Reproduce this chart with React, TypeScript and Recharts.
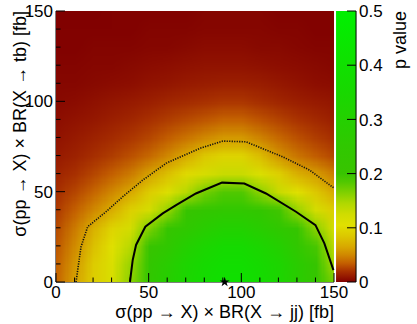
import React from "react";
import { ScatterChart, Scatter, XAxis, YAxis, ReferenceArea, ReferenceLine, Symbols } from "recharts";

// grid of the p-value map (fb), 10 fb spacing
const GRID_X = [0, 10, 20, 30, 40, 50, 60, 70, 80, 90, 100, 110, 120, 130, 140, 150];
const GRID_Y = [0, 10, 20, 30, 40, 50, 60, 70, 80, 90, 100, 110, 120, 130, 140, 150];

// p value per row (y)
const P_Y0 = [0.037, 0.062, 0.09, 0.115, 0.16, 0.24, 0.29, 0.335, 0.375, 0.4, 0.4, 0.375, 0.335, 0.28, 0.22, 0.17];
const P_Y10 = [0.035, 0.058, 0.088, 0.112, 0.155, 0.23, 0.28, 0.33, 0.365, 0.39, 0.39, 0.365, 0.33, 0.275, 0.215, 0.15];
const P_Y20 = [0.032, 0.052, 0.08, 0.105, 0.14, 0.2, 0.25, 0.3, 0.335, 0.36, 0.36, 0.335, 0.3, 0.245, 0.19, 0.135];
const P_Y30 = [0.028, 0.045, 0.07, 0.095, 0.12, 0.165, 0.215, 0.25, 0.28, 0.305, 0.305, 0.28, 0.25, 0.21, 0.16, 0.115];
const P_Y40 = [0.023, 0.035, 0.05, 0.068, 0.092, 0.12, 0.155, 0.205, 0.23, 0.245, 0.245, 0.23, 0.195, 0.155, 0.12, 0.09];
const P_Y50 = [0.019, 0.027, 0.037, 0.05, 0.065, 0.088, 0.11, 0.14, 0.17, 0.185, 0.185, 0.16, 0.13, 0.105, 0.085, 0.065];
const P_Y60 = [0.015, 0.02, 0.027, 0.035, 0.045, 0.062, 0.08, 0.1, 0.118, 0.13, 0.13, 0.112, 0.092, 0.07, 0.06, 0.046];
const P_Y70 = [0.011, 0.014, 0.019, 0.024, 0.03, 0.038, 0.05, 0.066, 0.085, 0.095, 0.095, 0.078, 0.056, 0.043, 0.034, 0.027];
const P_Y80 = [0.008, 0.011, 0.014, 0.018, 0.022, 0.027, 0.034, 0.042, 0.05, 0.058, 0.058, 0.048, 0.038, 0.03, 0.024, 0.019];
const P_Y90 = [0.006, 0.008, 0.01, 0.013, 0.016, 0.02, 0.024, 0.028, 0.032, 0.036, 0.036, 0.031, 0.026, 0.021, 0.017, 0.013];
const P_Y100 = [0.004, 0.005, 0.007, 0.009, 0.011, 0.013, 0.016, 0.018, 0.02, 0.022, 0.022, 0.019, 0.016, 0.013, 0.011, 0.009];
const P_Y110 = [0.003, 0.003, 0.004, 0.005, 0.006, 0.008, 0.009, 0.011, 0.012, 0.013, 0.013, 0.012, 0.01, 0.008, 0.006, 0.005];
const P_Y120 = [0.002, 0.002, 0.003, 0.003, 0.004, 0.005, 0.006, 0.007, 0.008, 0.008, 0.008, 0.007, 0.006, 0.005, 0.004, 0.003];
const P_Y130 = [0.001, 0.001, 0.002, 0.002, 0.002, 0.003, 0.003, 0.004, 0.005, 0.005, 0.005, 0.004, 0.004, 0.003, 0.002, 0.002];
const P_Y140 = [0.001, 0.001, 0.001, 0.001, 0.001, 0.002, 0.002, 0.002, 0.003, 0.003, 0.003, 0.003, 0.002, 0.002, 0.001, 0.001];
const P_Y150 = [0, 0, 0, 0.001, 0.001, 0.001, 0.001, 0.001, 0.002, 0.002, 0.002, 0.002, 0.001, 0.001, 0.001, 0.001];
const P_ROWS = [P_Y0, P_Y10, P_Y20, P_Y30, P_Y40, P_Y50, P_Y60, P_Y70, P_Y80, P_Y90, P_Y100, P_Y110, P_Y120, P_Y130, P_Y140, P_Y150];

// contour lines
const SOLID_X = [39.9, 41.4, 43.2, 48.2, 57.6, 64.8, 75.5, 89.6, 101.6, 113.3, 129.5, 140, 144.8, 149.7];
const SOLID_Y = [0, 12.2, 20.5, 30.6, 38, 42.6, 49, 55, 54.5, 49, 38.9, 31.5, 21.4, 6.6];
const DOTTED_X = [10.8, 13.5, 17.1, 27, 36, 46.8, 59.4, 77.4, 90, 102.5, 122.3, 136.7, 150];
const DOTTED_Y = [0, 19.5, 30.6, 38.9, 47.2, 56.4, 65.7, 73.9, 78, 77.6, 69.3, 62, 52];

// best fit point
const STAR = [{ x: 91, y: 0 }];

const X_TICKS = [0, 10, 20, 30, 40, 50, 60, 70, 80, 90, 100, 110, 120, 130, 140, 150];
const Y_TICKS = [0, 10, 20, 30, 40, 50, 60, 70, 80, 90, 100, 110, 120, 130, 140, 150];
const P_TICKS = [0, 0.1, 0.2, 0.3, 0.4, 0.5];

// palette
const PALETTE_P = [0, 0.01, 0.02, 0.035, 0.05, 0.065, 0.085, 0.105, 0.125, 0.145, 0.165, 0.185, 0.2, 0.25, 0.35, 0.5];
const PALETTE_C = ["#800000", "#951800", "#a83000", "#c46000", "#d08800", "#d8a800", "#dcc800", "#e0e000",
  "#d0dc00", "#b0d800", "#80d000", "#50c800", "#38c400", "#30c800", "#18d800", "#00f000"];

const X_TITLE = "σ(pp → X) × BR(X → jj) [fb]";
const Y_TITLE = "σ(pp → X) × BR(X → tb) [fb]";
const P_TITLE = "p value";

const FONT = "'Liberation Sans', Arial, Helvetica, sans-serif";
const FS = 17;
const TFS = 18;
const CW = 278 / 15;
const CH = 271 / 15;
const N = GRID_X.length - 1;
// colour bar, in x-axis units (just right of the frame)
const CB_X1 = 151.1;
const CB_X2 = 161.9;

function hex(c: string) {
  return [parseInt(c.slice(1, 3), 16), parseInt(c.slice(3, 5), 16), parseInt(c.slice(5, 7), 16)];
}

function pRGB(p: number) {
  if (p <= PALETTE_P[0]) return hex(PALETTE_C[0]);
  for (let k = 1; k < PALETTE_P.length; k++) {
    if (p <= PALETTE_P[k]) {
      const t = (p - PALETTE_P[k - 1]) / (PALETTE_P[k] - PALETTE_P[k - 1]);
      const a = hex(PALETTE_C[k - 1]);
      const b = hex(PALETTE_C[k]);
      return a.map((v, i) => Math.round(v + (b[i] - v) * t));
    }
  }
  return hex(PALETTE_C[PALETTE_C.length - 1]);
}

// one pixel per grid node; the browser smooths it when it is stretched
function heatImage() {
  if (typeof document === "undefined") return "";
  const cv = document.createElement("canvas");
  cv.width = GRID_X.length;
  cv.height = GRID_Y.length;
  const ctx = cv.getContext("2d");
  if (!ctx) return "";
  const img = ctx.createImageData(cv.width, cv.height);
  P_ROWS.forEach((row, j) => {
    row.forEach((p, i) => {
      const [r, g, b] = pRGB(p);
      const o = ((N - j) * cv.width + i) * 4;
      img.data[o] = r;
      img.data[o + 1] = g;
      img.data[o + 2] = b;
      img.data[o + 3] = 255;
    });
  });
  ctx.putImageData(img, 0, 0);
  return cv.toDataURL();
}

const HEAT_URL = heatImage();

// only the top-left node anchors the picture of the whole grid
const heatData = [{ x: GRID_X[0], y: GRID_Y[N] }];
const solidData = SOLID_X.map((x, k) => ({ x, y: SOLID_Y[k] }));
const dottedData = DOTTED_X.map((x, k) => ({ x, y: DOTTED_Y[k] }));
// two invisible points so the colour-bar axis has its range
const pRange = [{ x: 150, p: P_TICKS[0] }, { x: 150, p: P_TICKS[P_TICKS.length - 1] }];

const HeatMap = (props: any) => {
  const { cx, cy } = props;
  return (
    <image
      href={HEAT_URL}
      x={cx - CW / 2}
      y={cy - CH / 2}
      width={CW * (N + 1)}
      height={CH * (N + 1)}
      preserveAspectRatio="none"
    />
  );
};

const renderXTick = (props: any) => {
  const { x, y, payload } = props;
  const v = payload.value;
  const major = v % 50 === 0;
  return (
    <g>
      <line x1={x} x2={x} y1={y} y2={y - (major ? 9 : 4.5)} stroke="#000" />
      {major && (
        <text x={x} y={y + 16} textAnchor="middle" fontSize={FS} fontFamily={FONT} fill="#000">
          {v}
        </text>
      )}
    </g>
  );
};

const renderYTick = (props: any) => {
  const { x, y, payload } = props;
  const v = payload.value;
  const major = v % 50 === 0;
  return (
    <g>
      <line x1={x} x2={x + (major ? 9 : 4.5)} y1={y} y2={y} stroke="#000" />
      {major && (
        <text x={x - 3} y={y} dy="0.36em" textAnchor="end" fontSize={FS} fontFamily={FONT} fill="#000">
          {v}
        </text>
      )}
    </g>
  );
};

const renderPTick = (props: any) => {
  const { x, y, payload } = props;
  const v = payload.value;
  return (
    <g>
      <line x1={x + 13} x2={x + 22} y1={y} y2={y} stroke="#000" />
      <text x={x + 25} y={y} dy="0.36em" textAnchor="start" fontSize={FS} fontFamily={FONT} fill="#000">
        {v === 0 ? "0" : v.toFixed(1)}
      </text>
    </g>
  );
};

const xTitle = (props: any) => {
  const vb = props.viewBox ?? { x: 56, y: 282, width: 278, height: 42 };
  return (
    <text x={vb.x + vb.width} y={vb.y + 36} textAnchor="end" fontSize={TFS} fontFamily={FONT} fill="#000">
      {X_TITLE}
    </text>
  );
};

const yTitle = (props: any) => {
  const vb = props.viewBox ?? { x: 0, y: 11, width: 56, height: 271 };
  return (
    <text transform={`translate(${vb.x + 26},${vb.y}) rotate(-90)`} textAnchor="end" fontSize={TFS} fontFamily={FONT} fill="#000">
      {Y_TITLE}
    </text>
  );
};

const pTitle = (props: any) => {
  const vb = props.viewBox ?? { x: 334, y: 11, width: 83, height: 271 };
  return (
    <text transform={`translate(${vb.x + 72},${vb.y}) rotate(-90)`} textAnchor="end" fontSize={TFS} fontFamily={FONT} fill="#000">
      {P_TITLE}
    </text>
  );
};

export default function App() {
  return (
    <div style={{ position: "absolute", left: 0, top: 0, width: 417, height: 324, background: "#fff" }}>
      <svg width={1} height={1} style={{ position: "absolute", left: 0, top: 0 }}>
        <defs>
          <linearGradient id="pGrad" x1="0" y1="1" x2="0" y2="0">
            {PALETTE_P.map((p, k) => (
              <stop key={k} offset={p / 0.5} stopColor={PALETTE_C[k]} />
            ))}
          </linearGradient>
        </defs>
      </svg>
      <ScatterChart width={417} height={324} margin={{ top: 11, right: 0, bottom: 0, left: 0 }}>
        <Scatter
          data={heatData}
          xAxisId="m"
          yAxisId="m"
          shape={(p: any) => <HeatMap {...p} />}
          isAnimationActive={false}
        />
        <ReferenceArea
          xAxisId="s"
          yAxisId="s"
          x1={CB_X1}
          x2={CB_X2}
          y1={0}
          y2={150}
          ifOverflow="visible"
          fill="url(#pGrad)"
          fillOpacity={1}
          stroke="none"
        />
        <ReferenceLine xAxisId="s" yAxisId="s" x={CB_X2} ifOverflow="visible" stroke="#000" />
        <Scatter data={pRange} xAxisId="s" yAxisId="p" shape={() => <g />} isAnimationActive={false} />
        <Scatter
          data={dottedData}
          xAxisId="s"
          yAxisId="s"
          line={{ stroke: "#111", strokeWidth: 1.6, strokeDasharray: "1.2 1.3" }}
          shape={() => <g />}
          isAnimationActive={false}
        />
        <Scatter
          data={solidData}
          xAxisId="s"
          yAxisId="s"
          line={{ stroke: "#000", strokeWidth: 2 }}
          shape={() => <g />}
          isAnimationActive={false}
        />
        <Scatter
          data={STAR}
          xAxisId="s"
          yAxisId="s"
          shape={(p: any) => <Symbols cx={p.cx} cy={p.cy} type="star" size={30} fill="#000" />}
          isAnimationActive={false}
        />
        <XAxis
          xAxisId="m"
          type="number"
          dataKey="x"
          domain={[0, 150]}
          ticks={X_TICKS}
          interval={0}
          allowDataOverflow
          height={42}
          tickSize={0}
          tickMargin={0}
          tickLine={false}
          tick={renderXTick}
          axisLine={{ stroke: "#000" }}
          label={{ content: xTitle }}
        />
        <YAxis
          yAxisId="m"
          type="number"
          dataKey="y"
          domain={[0, 150]}
          ticks={Y_TICKS}
          interval={0}
          allowDataOverflow
          width={56}
          tickSize={0}
          tickMargin={0}
          tickLine={false}
          tick={renderYTick}
          axisLine={{ stroke: "#000" }}
          label={{ content: yTitle }}
        />
        <XAxis xAxisId="s" type="number" dataKey="x" domain={[0, 150]} hide />
        <YAxis yAxisId="s" type="number" dataKey="y" domain={[0, 150]} hide />
        <YAxis
          yAxisId="p"
          orientation="right"
          type="number"
          dataKey="p"
          domain={[0, 0.5]}
          ticks={P_TICKS}
          interval={0}
          allowDataOverflow
          width={83}
          tickSize={0}
          tickMargin={0}
          tickLine={false}
          axisLine={false}
          tick={renderPTick}
          label={{ content: pTitle }}
        />
      </ScatterChart>
    </div>
  );
}
